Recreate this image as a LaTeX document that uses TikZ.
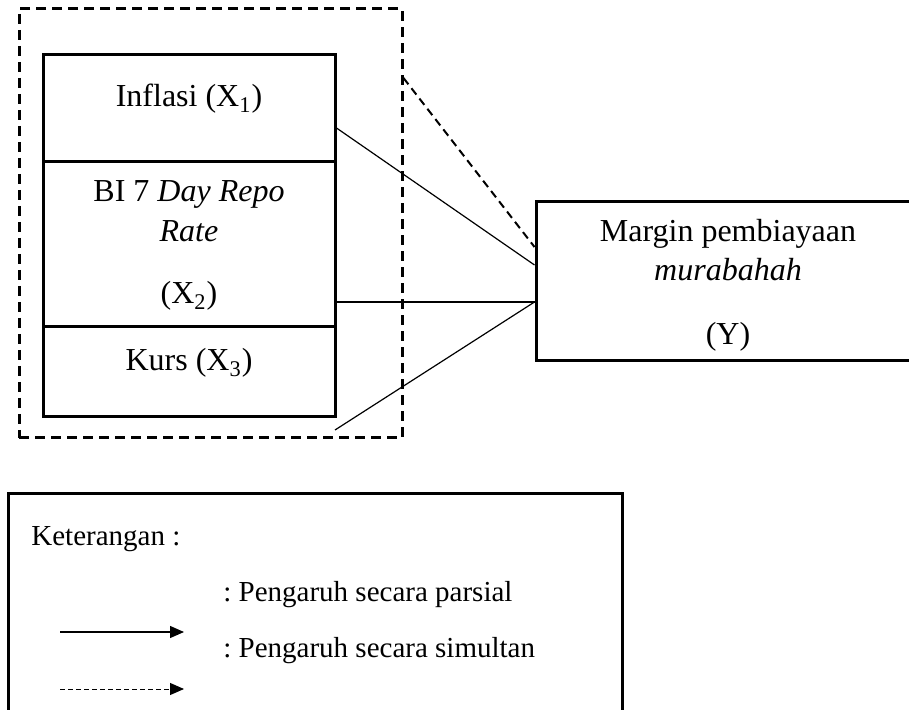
\documentclass[tikz,border=0pt]{standalone}
\usepackage{fontspec}
\setmainfont{Liberation Serif}
\usetikzlibrary{arrows.meta}
\frenchspacing

\begin{document}
\begin{tikzpicture}[x=0.5pt,y=-0.5pt]
  \tikzstyle{VarBox}=[draw,line width=1.5pt,rectangle,minimum width=146pt,inner sep=0pt]
  \tikzstyle{GroupBox}=[draw,line width=1.5pt,dash pattern=on 5pt off 3pt,rectangle,inner sep=0pt]
  \tikzstyle{BoxText}=[anchor=base,inner sep=0pt,font=\fontsize{16}{20}\selectfont]
  \tikzstyle{NoteText}=[anchor=base west,inner sep=0pt,font=\fontsize{14.5}{17}\selectfont]
  \tikzstyle{Partial}=[line width=0.6pt]
  \tikzstyle{Simult}=[line width=1pt,dash pattern=on 4pt off 2.5pt]
  \useasboundingbox (0,0) rectangle (909,710);
  % variabel bebas
  \node[GroupBox,minimum width=191.5pt,minimum height=214.5pt] (G) at (210.5,223.5) {};
  \node[VarBox,minimum height=53.5pt] (X1) at (189,108.5) {};
  \node[VarBox,minimum height=82.5pt] (X2) at (189,244.5) {};
  \node[VarBox,minimum height=45pt] (X3) at (189,372) {};
  \node[BoxText] (t1) at (189,107) {Inflasi (X\textsubscript{1})};
  \node[BoxText] (t2a) at (189,202) {BI 7 \textit{Day Repo}};
  \node[BoxText] (t2b) at (189,242) {\textit{Rate}};
  \node[BoxText] (t2c) at (189,304) {(X\textsubscript{2})};
  \node[BoxText] (t3) at (189,371) {Kurs (X\textsubscript{3})};
  % variabel terikat
  \node[draw,line width=1.5pt,inner sep=0pt,minimum width=188pt,minimum height=79.5pt] (Y) at (724,281.5) {};
  \node[BoxText] (ty1) at (728,242) {Margin pembiayaan};
  \node[BoxText] (ty2) at (728,281) {\textit{murabahah}};
  \node[BoxText] (ty3) at (728,345) {(Y)};
  \coordinate (x3out) at (335,430);
  \draw[Partial] ([yshift=-9.75pt]X1.east) -- ([yshift=8.25pt]Y.west);
  \draw[Partial] ([yshift=-28.75pt]X2.east) -- ([yshift=-10.25pt]Y.west);
  \draw[Partial] (x3out) -- ([yshift=-10.25pt]Y.west);
  \draw[Simult] ([yshift=72.75pt]G.east) -- ([yshift=17.25pt]Y.west);
  % keterangan
  \node[draw,line width=1.5pt,inner sep=0pt,minimum width=307pt,minimum height=111pt] (L) at (315,604) {};
  \node[NoteText] (k0) at (31,545) {Keterangan :};
  \node[NoteText] (k1) at (223,601) {: Pengaruh secara parsial};
  \node[NoteText] (k2) at (223,657) {: Pengaruh secara simultan};
  \coordinate (a1) at (60,632);
  \coordinate (b1) at (184,632);
  \coordinate (a2) at (60,689);
  \coordinate (b2) at (184,689);
  \draw[line width=0.65pt,-{Triangle[length=7pt,width=6pt]}] (a1) -- (b1);
  \draw[line width=0.5pt,dash pattern=on 2.5pt off 1.5pt,-{Triangle[length=7pt,width=6pt]}] (a2) -- (b2);
%  \draw[Partial] (X3.east) -- (Y.west);
\end{tikzpicture}
\end{document}
